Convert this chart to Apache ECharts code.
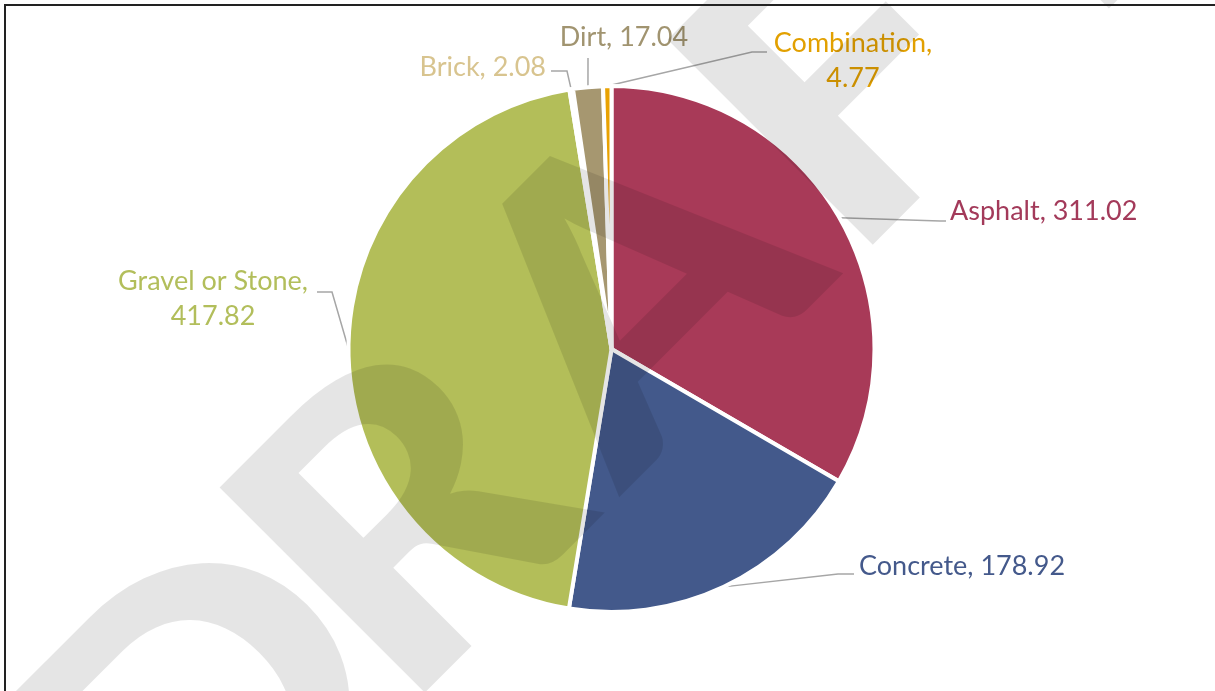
<!DOCTYPE html>
<html>
<head>
<meta charset="utf-8">
<title>Road surface</title>
<script src="https://cdn.jsdelivr.net/npm/echarts@6/dist/echarts.min.js"></script>
<style>
	html, body { margin: 0; padding: 0; background: #fff; }
	#main { width: 1215px; height: 691px; }
</style>
</head>
<body>
<div id="main"></div>
<script>
(function(){
	// data
	var categories = ['Asphalt', 'Concrete', 'Gravel or Stone', 'Brick', 'Dirt', 'Combination'];
	var values = [311.02, 178.92, 417.82, 2.08, 17.04, 4.77];

	var sliceColors = ['#A83A58', '#43598B', '#B3BE59', '#D9C591', '#A69770', '#E9A202'];
	var labelColors = ['#A33A5A', '#44598B', '#B2BE5B', '#D8C48F', '#A19470', '#E2A000'];

	// where each label sits, and the bend of its leader line
	var labelSpots = [
		{ x: 950, y: 211, align: 'left',   wrap: false, line: [[940, 221], [946, 221]] },
		{ x: 859, y: 566, align: 'left',   wrap: false, line: [[838, 574], [854, 574]] },
		{ x: 213, y: 299, align: 'center', wrap: true,  line: [[332, 292], [317, 292]] },
		{ x: 546, y: 67,  align: 'right',  wrap: false, line: [[567, 71], [551, 71]] },
		{ x: 624, y: 37,  align: 'center', wrap: false, line: [[588, 60], [588, 58]] },
		{ x: 853, y: 61,  align: 'center', wrap: true,  line: [[752, 52], [767, 52]] }
	];

	// watermark letters, centre of each glyph
	var stamp = ['D', 'R', 'A', 'F', 'T'];
	var stampSpots = [[211, 724], [411, 524], [640, 294], [846, 89], [1041, -106]];

	var pieData = values.map(function(v, i) {
		return {
			value: v,
			name: categories[i],
			itemStyle: { color: sliceColors[i] },
			label: { color: labelColors[i] }
		};
	});

	var marks = stamp.map(function(ch, i) {
		return {
			type: 'text',
			x: stampSpots[i][0],
			y: stampSpots[i][1],
			rotation: Math.PI / 4,
			scaleX: 1.1,
			silent: true,
			z: 100,
			style: {
				text: ch,
				font: '900 400px Lato',
				fill: 'rgba(0,0,0,0.1)',
				align: 'center',
				textAlign: 'center',
				verticalAlign: 'middle',
				textVerticalAlign: 'middle'
			}
		};
	});
	// frame
	marks.push({
		type: 'line', silent: true, z: 101,
		shape: { x1: 4, y1: 5, x2: 1215, y2: 5 },
		style: { stroke: '#222', lineWidth: 2 }
	});
	marks.push({
		type: 'line', silent: true, z: 101,
		shape: { x1: 5, y1: 4, x2: 5, y2: 691 },
		style: { stroke: '#222', lineWidth: 2 }
	});

	var option = {
		animation: false,
		graphic: { elements: marks },
		series: [{
			type: 'pie',
			center: [611.5, 349],
			radius: 263,
			startAngle: 90,
			clockwise: true,
			avoidLabelOverlap: false,
			itemStyle: {
				borderColor: '#fff',
				borderWidth: 4
			},
			emphasis: { disabled: true },
			label: {
				show: true,
				position: 'outside',
				fontFamily: 'Lato',
				fontSize: 27,
				lineHeight: 34.5,
				formatter: function(p) {
					var sep = labelSpots[p.dataIndex].wrap ? ',\n' : ', ';
					return p.name + sep + p.value;
				}
			},
			labelLine: {
				show: true,
				length: 10,
				length2: 10,
				lineStyle: { color: '#A6A6A6', width: 1.5 }
			},
			labelLayout: function(params) {
				var spot = labelSpots[params.dataIndex];
				var res = { x: spot.x, y: spot.y, align: spot.align, verticalAlign: 'middle' };
				if (params.labelLinePoints) {
					res.labelLinePoints = [params.labelLinePoints[0], spot.line[0], spot.line[1]];
				}
				return res;
			},
			data: pieData
		}]
	};

	var chart = echarts.init(document.getElementById('main'));
	chart.setOption(option);
	window.addEventListener('resize', function() {
		chart.resize();
	});
})();
</script>
</body>
</html>
